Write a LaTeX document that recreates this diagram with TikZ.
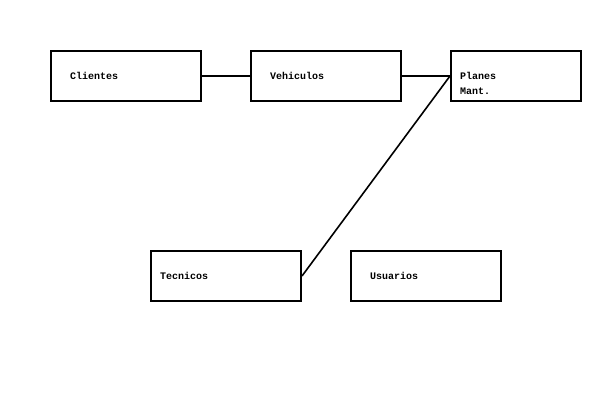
\documentclass[tikz,border=0pt]{standalone}
\usepackage{fontspec}
\setmonofont{Liberation Mono}
\begin{document}
\begin{tikzpicture}[x=1pt,y=-1pt,
  entity/.style={draw,line width=2pt,rectangle,anchor=north west,inner sep=0pt},
  lbl/.style={anchor=base west,inner sep=0pt,font=\ttfamily\bfseries\fontsize{10}{10}\selectfont},
  link/.style={line width=1.6pt}]
\useasboundingbox (0,0) rectangle (600,400);
\node[entity,minimum width=150pt,minimum height=50pt] (cli) at (50,50) {};
\node[entity,minimum width=150pt,minimum height=50pt] (veh) at (250,50) {};
\node[entity,minimum width=130pt,minimum height=50pt] (pla) at (450,50) {};
\node[entity,minimum width=150pt,minimum height=50pt] (tec) at (150,250) {};
\node[entity,minimum width=150pt,minimum height=50pt] (usu) at (350,250) {};
\node[lbl] (tcli) at (70,79) {Clientes};
\node[lbl] (tveh) at (270,79) {Vehiculos};
\node[lbl] (tpla1) at (460,79) {Planes};
\node[lbl] (tpla2) at (460,94) {Mant.};
\node[lbl] (ttec) at (160,279) {Tecnicos};
\node[lbl] (tusu) at (370,279) {Usuarios};
\draw[link] (cli.east) -- (veh.west);
\draw[link] (veh.east) -- (pla.west);
\draw[link] (pla.west) -- (tec.east);
\end{tikzpicture}
\end{document}
